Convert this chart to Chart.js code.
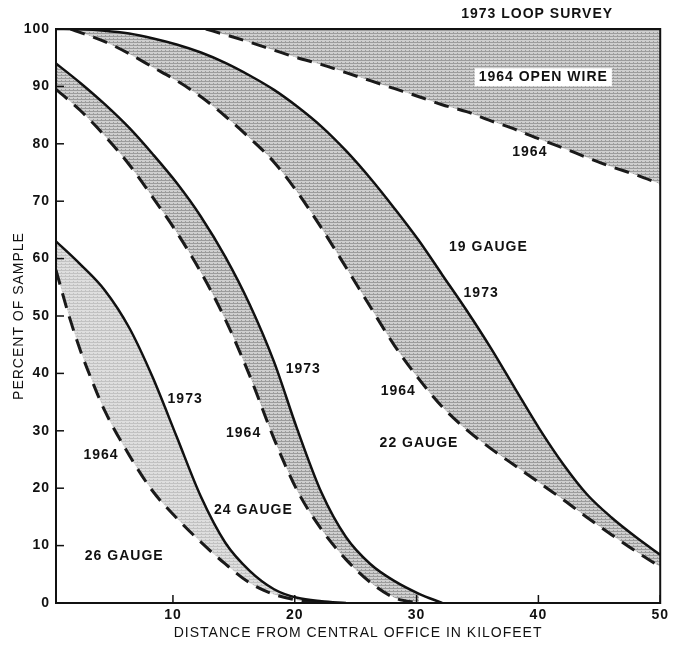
<!DOCTYPE html>
<html>
<head>
<meta charset="utf-8">
<script src="https://cdn.jsdelivr.net/npm/chart.js@4.4.1/dist/chart.umd.min.js"></script>
<style>
  body { margin: 0; background: #fff; }
</style>
</head>
<body>
<canvas id="loop-chart" width="673" height="654"></canvas>
<script>
// distance (kilofeet) and percent of sample for each curve
const x26_73 = [0.4, 2.4, 4.4, 6.4, 8.3, 10.3, 12.3, 14.3, 16.3, 18.3, 20.2, 22.2, 24.2];
const y26_73 = [63, 59, 54.5, 48, 39.5, 29, 18.5, 10.5, 5.6, 2.4, 0.9, 0.3, 0];
const x26_64 = [0.4, 1.4, 2.4, 3.4, 4.4, 6.4, 8.3, 10.3, 12.3, 14.3, 16.3, 18.3, 20.2, 22.2];
const y26_64 = [58, 50.5, 44, 38.5, 33.5, 25.8, 19.6, 14.8, 10.6, 6.8, 3.5, 1.5, 0.5, 0];

const x24_73 = [0.4, 2.4, 4.4, 6.4, 8.3, 10.3, 12.3, 14.3, 16.3, 18.3, 20.2, 22.2, 24.2, 26.2, 28.2, 30.2, 32.1];
const y24_73 = [94, 90.6, 86.9, 82.8, 78.3, 73.2, 67.3, 60.3, 52, 42, 30.3, 19.2, 11.5, 6.8, 3.8, 1.6, 0];
const x24_64 = [0.4, 2.4, 4.4, 6.4, 8.3, 10.3, 12.3, 14.3, 16.3, 18.3, 20.2, 22.2, 24.2, 26.2, 28.2, 30.2];
const y24_64 = [89.5, 85.8, 81.4, 76.4, 70.8, 64.6, 57.6, 49.4, 39.6, 28.6, 19.6, 12.8, 7.6, 3.6, 0.9, 0];

const x22_73 = [0.4, 2.4, 4.4, 6.4, 8.3, 10.3, 12.3, 14.3, 16.3, 18.3, 20.2, 22.2, 24.2, 26.2, 28.2, 30.2, 32.1, 34.1, 36.1, 38.1, 40.1, 42.1, 44, 46, 48, 50];
const y22_73 = [100, 99.95, 99.7, 99.2, 98.4, 97.3, 95.9, 94.1, 91.9, 89.4, 86.5, 83, 78.8, 74, 68.7, 63.1, 57.2, 51, 44.4, 37.3, 30.3, 24, 18.9, 14.9, 11.5, 8.4];
const x22_64 = [1.6, 4.4, 6.4, 8.3, 10.3, 12.3, 14.3, 16.3, 18.3, 20.2, 22.2, 24.2, 26.2, 28.2, 30.2, 32.1, 34.1, 36.1, 38.1, 40.1, 42.1, 44, 46, 48, 50];
const y22_64 = [100, 97.8, 95.7, 93.4, 91, 88.2, 84.8, 81, 76.8, 71.6, 65.3, 58.5, 51.6, 44.8, 39, 34.2, 30.2, 26.9, 23.9, 20.9, 17.9, 14.9, 11.9, 9, 6.3];

// 1964 open wire, everything above it is the 1973 survey
const xOW_64 = [12.7, 14.3, 16.3, 18.3, 20.2, 22.2, 24.2, 26.2, 28.2, 30.2, 32.1, 34.1, 36.1, 38.1, 40.1, 42.1, 44, 46, 48, 50];
const yOW_64 = [100, 99, 97.7, 96.3, 95, 93.8, 92.4, 91, 89.6, 88.2, 86.8, 85.6, 84, 82.5, 80.8, 79.2, 77.6, 76, 74.6, 73];

const xTicks = [10, 20, 30, 40, 50];
const yTicks = [0, 10, 20, 30, 40, 50, 60, 70, 80, 90, 100];

// text written on the plot, in data units
const notes = [
    { text: "1973 LOOP SURVEY", x: 39.9, y: 102.6 },
    { text: "1964 OPEN WIRE", x: 40.4, y: 91.6, box: true },
    { text: "1964", x: 39.3, y: 78.6 },
    { text: "19 GAUGE", x: 35.9, y: 62 },
    { text: "1973", x: 35.3, y: 54 },
    { text: "1964", x: 28.5, y: 36.9 },
    { text: "22 GAUGE", x: 30.2, y: 27.9 },
    { text: "1973", x: 20.7, y: 40.8 },
    { text: "1964", x: 15.8, y: 29.6 },
    { text: "24 GAUGE", x: 16.6, y: 16.2 },
    { text: "1973", x: 11.0, y: 35.5 },
    { text: "1964", x: 4.1, y: 25.8 },
    { text: "26 GAUGE", x: 6.0, y: 8.2 }
];

const FONT = "'Liberation Sans', Arial, sans-serif";

function points(xs, ys) {
    return xs.map((x, i) => ({ x: x, y: ys[i] }));
}

// small repeating screen used for the shaded bands
function hatch(base, ink) {
    let c = document.createElement("canvas");
    c.width = 4;
    c.height = 3;
    let g = c.getContext("2d");
    g.fillStyle = base;
    g.fillRect(0, 0, 4, 3);
    g.fillStyle = ink;
    g.fillRect(0, 0, 4, 1);
    g.fillRect(1, 2, 1, 1);
    return g.createPattern(c, "repeat");
}

const darkBand = hatch("#cfcfcf", "#9c9c9c");
const lightBand = hatch("#dedede", "#c2c2c2");

function solid(xs, ys, target, band) {
    return {
        data: points(xs, ys),
        borderColor: "#111",
        borderWidth: 2.5,
        pointRadius: 0,
        cubicInterpolationMode: "monotone",
        fill: { target: target },
        backgroundColor: band
    };
}

function dashed(xs, ys, fill, band) {
    return {
        data: points(xs, ys),
        borderColor: "#1a1a1a",
        borderWidth: 3,
        borderDash: [15, 9],
        pointRadius: 0,
        cubicInterpolationMode: "monotone",
        fill: fill,
        backgroundColor: band || "transparent"
    };
}

const decorations = {
    id: "decorations",
    // wider letter spacing for all text on the canvas
    beforeUpdate(chart) {
        chart.ctx.letterSpacing = "1px";
    },
    beforeDraw(chart) {
        chart.ctx.letterSpacing = "1px";
    },
    afterDatasetsDraw(chart) {
        const ctx = chart.ctx;
        const a = chart.chartArea;
        const xs = chart.scales.x;
        const ys = chart.scales.y;
        ctx.save();

        // frame
        ctx.strokeStyle = "#111";
        ctx.lineWidth = 2;
        ctx.strokeRect(a.left, a.top, a.right - a.left, a.bottom - a.top);

        // inward tick marks
        ctx.lineWidth = 1.5;
        yTicks.forEach(v => {
            let py = ys.getPixelForValue(v);
            ctx.beginPath();
            ctx.moveTo(a.left, py);
            ctx.lineTo(a.left + 8, py);
            ctx.stroke();
        });
        xTicks.forEach(v => {
            let px = xs.getPixelForValue(v);
            ctx.beginPath();
            ctx.moveTo(px, a.bottom);
            ctx.lineTo(px, a.bottom - 8);
            ctx.stroke();
        });

        // labels
        ctx.font = "bold 14px " + FONT;
        ctx.textAlign = "center";
        ctx.textBaseline = "middle";
        notes.forEach(n => {
            let px = xs.getPixelForValue(n.x);
            let py = ys.getPixelForValue(n.y);
            if (n.box) {
                let w = ctx.measureText(n.text).width;
                ctx.fillStyle = "#fff";
                ctx.fillRect(px - w / 2 - 4, py - 9, w + 8, 18);
            }
            ctx.fillStyle = "#111";
            ctx.fillText(n.text, px, py);
        });
        ctx.restore();
    }
};

new Chart(document.getElementById("loop-chart"), {
    type: "line",
    data: {
        datasets: [
            // 19 gauge / open wire
            dashed(xOW_64, yOW_64, "end", darkBand),
            // 22 gauge
            solid(x22_73, y22_73, 2, darkBand),
            dashed(x22_64, y22_64, false),
            // 24 gauge
            solid(x24_73, y24_73, 4, darkBand),
            dashed(x24_64, y24_64, false),
            // 26 gauge
            solid(x26_73, y26_73, 6, lightBand),
            dashed(x26_64, y26_64, false)
        ]
    },
    options: {
        responsive: false,
        animation: false,
        layout: { padding: { top: 29, right: 10, left: 0, bottom: 0 } },
        plugins: {
            legend: { display: false },
            tooltip: { enabled: false },
            filler: { drawTime: "beforeDatasetsDraw" }
        },
        scales: {
            x: {
                type: "linear",
                min: 0.4,
                max: 50,
                grid: { display: false, drawTicks: false },
                border: { display: false },
                afterFit: s => { s.height = 51; },
                afterBuildTicks: s => { s.ticks = xTicks.map(v => ({ value: v })); },
                ticks: {
                    padding: 4,
                    color: "#111",
                    font: { family: FONT, size: 14, weight: "bold" }
                },
                title: {
                    display: true,
                    text: "DISTANCE FROM CENTRAL OFFICE IN KILOFEET",
                    color: "#111",
                    font: { family: FONT, size: 14 },
                    padding: { bottom: 12 }
                }
            },
            y: {
                min: 0,
                max: 100,
                grid: { display: false, drawTicks: false },
                border: { display: false },
                afterFit: s => { s.width = 56; },
                afterBuildTicks: s => { s.ticks = yTicks.map(v => ({ value: v })); },
                ticks: {
                    padding: 6,
                    color: "#111",
                    font: { family: FONT, size: 14, weight: "bold" }
                },
                title: {
                    display: true,
                    text: "PERCENT OF SAMPLE",
                    color: "#111",
                    font: { family: FONT, size: 14 },
                    padding: { top: 11 }
                }
            }
        }
    },
    plugins: [decorations]
});
</script>
</body>
</html>
